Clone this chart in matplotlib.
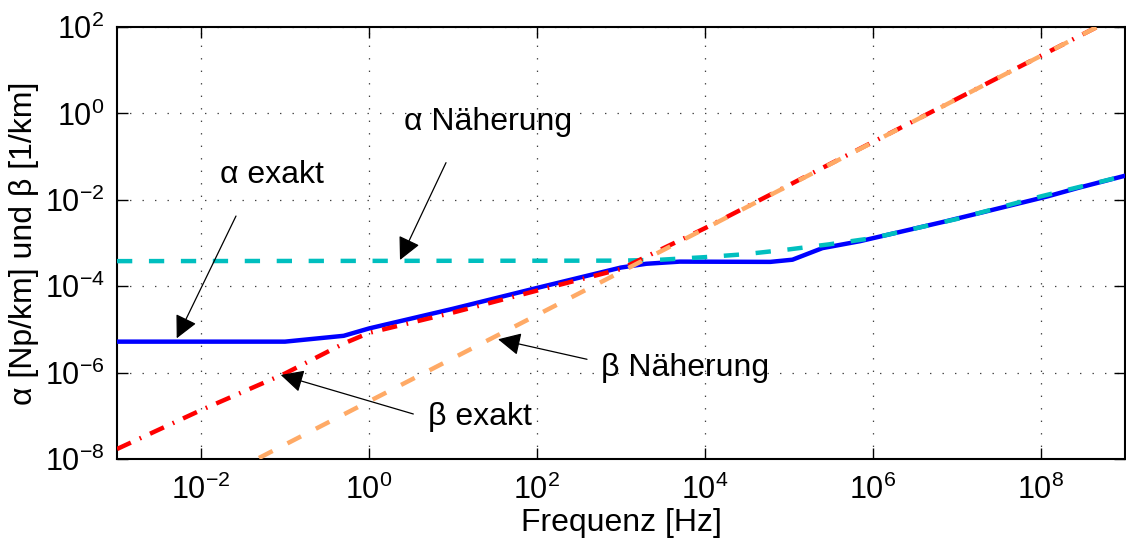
import matplotlib
matplotlib.use('Agg')
import matplotlib.pyplot as plt

plt.rcParams['font.family'] = ['Liberation Sans', 'DejaVu Sans']
plt.rcParams['mathtext.fontset'] = 'custom'
plt.rcParams['mathtext.rm'] = 'Liberation Sans'
plt.rcParams['lines.scale_dashes'] = False

# alpha exakt (blue, solid)
f_alpha = [1e-3, 0.1, 0.5, 1, 10, 100, 1e3, 2e3, 5e3, 6e4, 1.1e5, 2.5e5,
           7e5, 7.5e6, 1.2e8, 2.7e8, 1e9]
alpha_exakt = [5.2e-6, 5.2e-6, 7.1e-6, 1.05e-5, 3.0e-5, 9.1e-5, 2.7e-4, 3.3e-4,
               3.7e-4, 3.65e-4, 4.1e-4, 7.6e-4, 1.1e-3, 3.2e-3, 1.2e-2, 1.86e-2, 3.6e-2]

# alpha Naeherung (cyan, dashed)
f_alpha_n = [1e-3, 1e3, 3e3, 1e4, 3e4, 1e5, 3e5, 1e6, 1e7, 1e8, 1e9]
alpha_naeh = [3.8e-4, 3.9e-4, 4.1e-4, 4.7e-4, 5.5e-4, 7.1e-4, 9.3e-4, 1.3e-3,
              3.6e-3, 1.2e-2, 3.6e-2]

# beta exakt (red, dash-dot)
f_beta = [1e-3, 1e-2, 0.1, 0.5, 1, 10, 100, 1e3, 3e3, 1e4, 1e9]
beta_exakt = [1.7e-8, 1.35e-7, 9.5e-7, 4.7e-6, 8.3e-6, 2.45e-5, 7.9e-5, 2.5e-4,
              7.1e-4, 2.2e-3, 2.15e2]

# beta Naeherung (orange, dashed)
f_beta_n = [1e-3, 1e9]
beta_naeh = [2.15e-10, 2.15e2]

x_ticks = [1e-2, 1e0, 1e2, 1e4, 1e6, 1e8]
y_ticks = [1e-8, 1e-6, 1e-4, 1e-2, 1e0, 1e2]

fig = plt.figure(figsize=(11.26, 5.56), dpi=100)
ax = fig.add_axes([0.1039, 0.1745, 0.8952, 0.7770])

ax.loglog(f_alpha, alpha_exakt, color='#0000ff', lw=3.2, solid_joinstyle='round', zorder=3)
ax.loglog(f_alpha_n, alpha_naeh, color='#00bfbf', lw=3.2, dashes=(11, 12), zorder=4)
ax.loglog(f_beta, beta_exakt, color='#ff0000', lw=3.2, dashes=(11, 7, 1.2, 7), zorder=5)
ax.loglog(f_beta_n, beta_naeh, color='#ffaa66', lw=3.2, dashes=(11, 12), zorder=6)

ax.set_xlim(1e-3, 1e9)
ax.set_ylim(1e-8, 1e2)
ax.set_xticks(x_ticks)
ax.set_yticks(y_ticks)
ax.minorticks_off()
ax.tick_params(which='major', direction='in', length=8, width=1, labelsize=22,
               top=True, right=True)
ax.tick_params(axis='x', pad=11)
ax.tick_params(axis='y', pad=9)
for s in ax.spines.values():
    s.set_linewidth(1.5)
ax.grid(True, which='major', color='0.25', lw=0.9, dashes=(1, 8))

ax.set_xlabel('Frequenz [Hz]', fontsize=23, labelpad=2)
ax.set_ylabel('α [Np/km] und β [1/km]', fontsize=23, labelpad=4)

arrow = dict(arrowstyle='-|>,head_length=1.4,head_width=0.7', color='k', lw=0.9,
             shrinkA=0, shrinkB=0)
# (text, text position, arrow start, arrow tip)
notes = [
    ('α exakt', (0.0695, 0.0375), (0.0261, 4.2e-3), (5.14e-3, 6.2e-6)),
    ('α Näherung', (26.1, 0.643), (8.26, 0.0723), (2.34, 4.04e-4)),
    ('β exakt', (20.9, 9.5e-8), (3.37, 1.1e-7), (0.089, 8.8e-7)),
    ('β Näherung', (5780, 1.28e-6), (394, 2.03e-6), (34.4, 5.9e-6)),
]
for label, pos, start, tip in notes:
    ax.annotate('', xy=tip, xytext=start, arrowprops=arrow, zorder=7)
    ax.text(pos[0], pos[1], label, fontsize=23, ha='center', va='center', zorder=8)

fig.savefig('out.png', dpi=100)
